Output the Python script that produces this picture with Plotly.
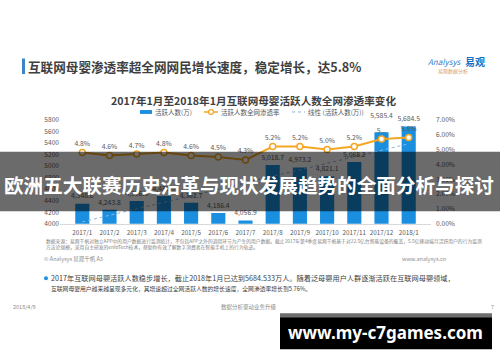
import numpy as np
import plotly.graph_objects as go

# ---------------- data ----------------
categories = ["2017/1", "2017/2", "2017/3", "2017/4", "2017/5", "2017/6", "2017/7",
              "2017/8", "2017/9", "2017/10", "2017/11", "2017/12", "2018/1"]
active_users = [4348.6, 4243.8, 4396.5, 4480.0, 4362.7, 4186.4, 4056.9,
                5018.7, 4973.2, 4821.1, 5068.2, 5585.4, 5684.5]
penetration = [0.048, 0.046, 0.047, 0.048, 0.046, 0.045, 0.043,
               0.052, 0.052, 0.050, 0.052, 0.057, 0.058]
penetration_labels = ["4.8%", "4.6%", "4.7%", "4.8%", "4.6%", "4.5%", "4.3%",
                      "5.2%", "5.2%", "5.0%", "5.2%", "5...", "5.8%"]
left_ticks = [4000, 4200, 4400, 4600, 4800, 5000, 5200, 5400, 5600, 5800]
right_ticks = [0.00, 0.01, 0.02, 0.03, 0.04, 0.05, 0.06, 0.07]

# linear trend of the bar series (Excel "线性" trendline)
idx = np.arange(1, len(active_users) + 1)
slope, intercept = np.polyfit(idx, active_users, 1)
trend = slope * idx + intercept

# ---------------- styling ----------------
W, H = 500, 362
FONT = "Noto Sans CJK SC"
BAR = "#1a8fe0"
ORANGE = "#f5a623"
GRAY = "#595959"
DARK = "#404040"


def px(x):
    return x / W


def py(y):
    return 1 - y / H


# bar label offsets (2017/12 label is pushed up in the original)
label_sizes = [18 if c == "2017/12" else 4 for c in categories]

fig = go.Figure()

fig.add_trace(go.Bar(
    x=categories, y=active_users, marker=dict(color=BAR, line=dict(width=0)),
    width=0.52, yaxis="y", showlegend=False, hoverinfo="skip",
))

fig.add_trace(go.Scatter(
    x=categories, y=trend, mode="lines", yaxis="y",
    line=dict(color="#8fb4e0", width=1, dash="dot"),
    showlegend=False, hoverinfo="skip",
))

fig.add_trace(go.Scatter(
    x=categories, y=penetration, yaxis="y2", mode="lines+markers+text",
    text=penetration_labels, textposition="top center",
    textfont=dict(size=6.8, color=GRAY, family=FONT),
    line=dict(color=ORANGE, width=2),
    marker=dict(size=6, color="white", line=dict(color=ORANGE, width=1.5)),
    showlegend=False, hoverinfo="skip", cliponaxis=False,
))

fig.add_trace(go.Scatter(
    x=categories, y=active_users, yaxis="y", mode="markers+text",
    text=[f"{v:,.1f}" for v in active_users], textposition="top center",
    textfont=dict(size=6.8, color=GRAY, family=FONT),
    marker=dict(size=label_sizes, opacity=0),
    showlegend=False, hoverinfo="skip", cliponaxis=False,
))

shapes = [
    # title accent bar
    dict(type="rect", xref="paper", yref="paper", x0=px(22), x1=px(25), y0=py(70), y1=py(54),
         fillcolor="#3d85c6", line=dict(width=0)),
    # legend: bar swatch
    dict(type="rect", xref="paper", yref="paper", x0=px(140), x1=px(152), y0=py(111), y1=py(107),
         fillcolor=BAR, line=dict(width=0)),
    # legend: orange line + marker
    dict(type="line", xref="paper", yref="paper", x0=px(204), x1=px(218), y0=py(109), y1=py(109),
         line=dict(color=ORANGE, width=1.5)),
    dict(type="circle", xref="paper", yref="paper", x0=px(208.5), x1=px(213.5), y0=py(111.5), y1=py(106.5),
         fillcolor="white", line=dict(color=ORANGE, width=1.2)),
    # legend: dotted trend
    dict(type="line", xref="paper", yref="paper", x0=px(292), x1=px(305), y0=py(109), y1=py(109),
         line=dict(color="#8fb4e0", width=1, dash="dot")),
    # bullet dot
    dict(type="circle", xref="paper", yref="paper", x0=px(44), x1=px(48), y0=py(282), y1=py(278),
         fillcolor=BAR, line=dict(width=0)),
    # dark overlay banner
    dict(type="rect", xref="paper", yref="paper", x0=0, x1=1, y0=py(211), y1=py(150),
         fillcolor="rgba(0,0,0,0.58)", line=dict(width=0), layer="above"),
    # watermark box
    dict(type="rect", xref="paper", yref="paper", x0=px(280), x1=px(492), y0=py(320), y1=py(316),
         fillcolor="#6e6e6e", line=dict(width=0), layer="above"),
    dict(type="rect", xref="paper", yref="paper", x0=px(280), x1=px(492), y0=py(353), y1=py(320),
         fillcolor="#000000", line=dict(width=0), layer="above"),
]


def ann(text, x, y, size, color=DARK, xanchor="left", bold=False, family=FONT):
    return dict(text=f"<b>{text}</b>" if bold else text, x=px(x), y=py(y), xref="paper", yref="paper",
                xanchor=xanchor, yanchor="middle", showarrow=False, borderpad=0,
                font=dict(size=size, color=color, family=family))


annotations = [
    ann("互联网母婴渗透率超全网网民增长速度，稳定增长，达5.8%", 27, 62, 12.6, color="#3f3f3f", bold=True),
    ann("<i>Analysys</i>", 427, 57, 8, color="#2f7fc8"),
    ann("易观", 464, 57, 10, color="#1a6fc0", bold=True),
    ann("易观数据分析", 437, 67, 5, color="#d9a066"),
    ann("2017年1月至2018年1月互联网母婴活跃人数全网渗透率变化", 253, 97, 10.6, color=DARK,
        xanchor="center", bold=True),
    ann("活跃人数(万)", 154, 109, 6.5, color=GRAY),
    ann("活跃人数全网渗透率", 220, 109, 6.5, color=GRAY),
    ann("线性 (活跃人数(万))", 307, 109, 6.5, color=GRAY),
    ann("数据来源：易观千帆对独立APP中的用户数据进行监测统计，不包括APP之外的调用环节为产生的用户数据。"
        "截止2017年第4季度易观千帆基于对22.5亿台智能设备的覆盖，5.5亿移动端月活跃用户的行为监测",
        45, 242, 4.8, color="#7f7f7f"),
    ann("方法论规模，采用自主研发的enfoTech技术，帮助你有效了解数字消费者在智能手机上的行为轨迹。",
        45, 248, 4.8, color="#7f7f7f"),
    ann("© Analysys 易观千帆 A3", 43, 260, 5.5, color="#8c8c8c"),
    ann("www.analysys.cn", 447, 260, 5.5, color="#8c8c8c", xanchor="right"),
    ann("2017年互联网母婴活跃人数稳步增长，截止2018年1月已达到5684.533万人。随着泛母婴用户人群逐渐活跃在互联网母婴领域，",
        50, 280, 7.2, color=DARK),
    ann("互联网母婴用户越来越呈现多元化，其增速超过全网活跃人数的增长速度，全网渗透率增长到5.76%。",
        50, 291, 5.8, color=DARK),
    ann("2018/4/9", 12, 310, 5.5, color="#8c8c8c"),
    ann("数据分析驱动业务升级", 249, 310, 5.5, color="#8c8c8c", xanchor="center"),
    ann("7", 490, 310, 5.5, color="#8c8c8c"),
    ann("欧洲五大联赛历史沿革与现状发展趋势的全面分析与探讨", 249, 184, 19.6, color="white",
        xanchor="center", bold=True),
    ann("www.my-c7games.com", 385, 336, 17, color="white", xanchor="center", bold=True,
        family="Noto Sans"),
]

tickfont = dict(size=6.6, color=GRAY, family=FONT)

fig.update_layout(
    width=W, height=H, margin=dict(l=0, r=0, t=0, b=0),
    paper_bgcolor="white", plot_bgcolor="rgba(0,0,0,0)",
    font=dict(family=FONT),
    showlegend=False, bargap=0.48,
    xaxis=dict(domain=[px(60), px(431)], type="category", showline=True, linecolor="#d9d9d9",
               linewidth=1, ticks="", showgrid=False, zeroline=False, tickangle=0,
               ticklabelstandoff=3,
               tickfont=dict(size=6.3, color=GRAY, family=FONT), fixedrange=True),
    yaxis=dict(domain=[py(224), py(117)], range=[4000, 5800], tickvals=left_ticks,
               ticks="", showgrid=False, zeroline=False, showline=False, tickfont=tickfont,
               fixedrange=True),
    yaxis2=dict(domain=[py(224), py(117)], overlaying="y", side="right", range=[0, 0.07],
                tickvals=right_ticks, tickformat=".2%", ticks="", showgrid=False, zeroline=False,
                showline=False, tickfont=tickfont, ticklabelstandoff=4, fixedrange=True),
    shapes=shapes, annotations=annotations,
)

fig.write_html("out.html", config={"displayModeBar": False},
               post_script="document.body.style.margin='0px';")
